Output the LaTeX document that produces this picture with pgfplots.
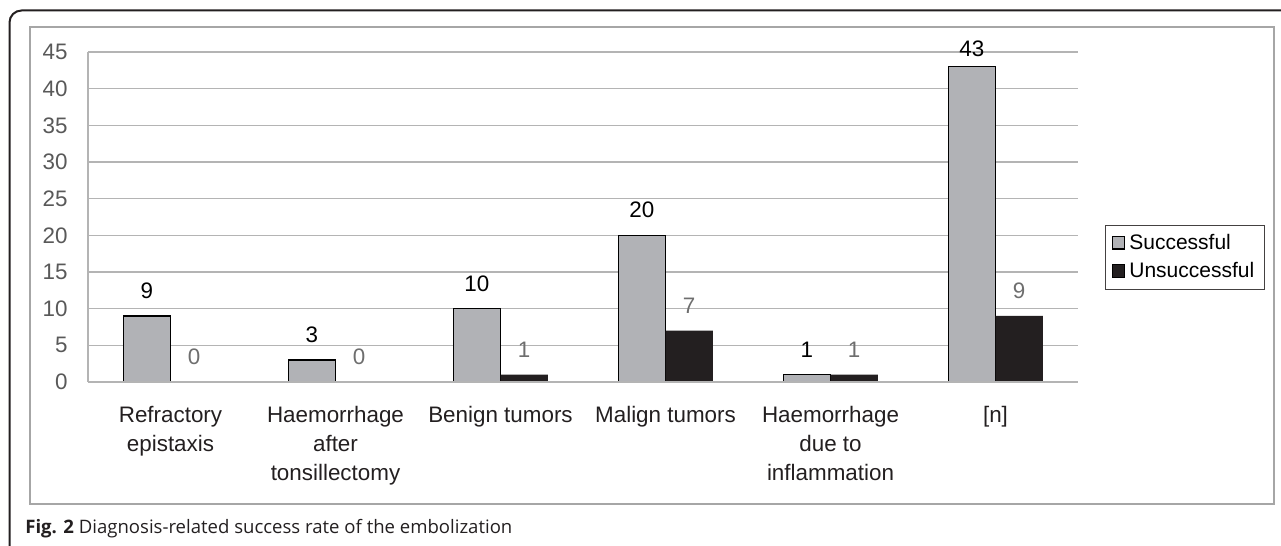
\documentclass[border=0pt]{standalone}
\usepackage{pgfplots}
\pgfplotsset{compat=1.18}
\usepackage{graphicx}
\usepackage{fontspec}
\setmainfont{Liberation Sans}
\newfontfamily\capfont{Open Sans}
\definecolor{framec}{HTML}{231F20}
\definecolor{succ}{HTML}{B1B2B6}
\definecolor{unsucc}{HTML}{231F20}
\definecolor{gridc}{HTML}{B4B4B4}
\definecolor{boxc}{HTML}{A6A6A6}
\definecolor{tickc}{HTML}{595959}
\definecolor{valgray}{HTML}{6E6E6E}
\begin{document}
\begin{tikzpicture}
\useasboundingbox (0,0) rectangle (640.5pt,273pt);
\draw[framec, line width=1pt, rounded corners=6pt] (4.75pt,-2pt) -- (4.75pt,267.75pt) -- (642pt,267.75pt);
\draw[boxc, line width=0.6pt] (15pt,21pt) rectangle (637pt,259.5pt);
\begin{axis}[
  at={(44pt,82pt)}, anchor=south west,
  scale only axis, width=495pt, height=165pt,
  xmin=-0.5, xmax=5.5, ymin=0, ymax=45,
  ytick={0,5,...,45},
  xtick={0,1,2,3,4,5},
  xticklabels={Refractory\\epistaxis, Haemorrhage\\after\\tonsillectomy, Benign tumors, Malign tumors, Haemorrhage\\due to\\inflammation, {[n]}},
  axis x line*=bottom, axis y line*=left,
  axis line style={gridc, line width=0.6pt, -},
  ymajorgrids, grid style={gridc, line width=0.6pt},
  major tick length=0pt,
  /pgf/number format/assume math mode=true,
  yticklabel style={font=\fontsize{11.2}{13}\selectfont, text=tickc, anchor=east, inner sep=0pt, xshift=-10pt},
  xticklabel style={font=\fontsize{11.2}{14.7}\selectfont, text=framec, align=center, anchor=north, inner sep=0pt, yshift=-11.75pt},
  ybar=0pt, bar width=23.65pt,
  nodes near coords,
  every node near coord/.append style={font=\fontsize{11.2}{13}\selectfont, anchor=base, inner sep=0pt, yshift=8.75pt},
  legend style={at={(1.0253,0.377)}, anchor=west, xshift=1pt, draw=framec!85, line width=0.5pt, font=\fontsize{10.5}{12}\selectfont, inner xsep=3pt, inner ysep=2.5pt, row sep=1pt, cells={anchor=west}},
  legend image code/.code={\draw[#1] (0pt,-2.8pt) rectangle (6.3pt,3.5pt);},
  clip=false,
]
\addplot[fill=succ, draw=black, line width=0.6pt,
  every node near coord/.append style={text=black},
  coordinate style/.condition={y>40}{yshift=-3.5pt}]
  coordinates {(0,9) (1,3) (2,10) (3,20) (4,1) (5,43)};
\addlegendentry{Successful}
\addplot[fill=unsucc, draw=none,
  every node near coord/.append style={text=valgray}]
  coordinates {(0,0) (1,0) (2,1) (3,7) (4,1) (5,9)};
\addlegendentry{Unsuccessful}
\draw[gridc, line width=0.6pt] (axis cs:-0.5,0) -- (axis cs:5.5,0);
\end{axis}
\node[anchor=base west, inner sep=0pt, text=framec] at (12.5pt,6pt) {\resizebox{243.5pt}{!}{\capfont\fontsize{8}{10}\selectfont\textbf{Fig. 2} Diagnosis-related success rate of the embolization}};
\end{tikzpicture}
\end{document}
